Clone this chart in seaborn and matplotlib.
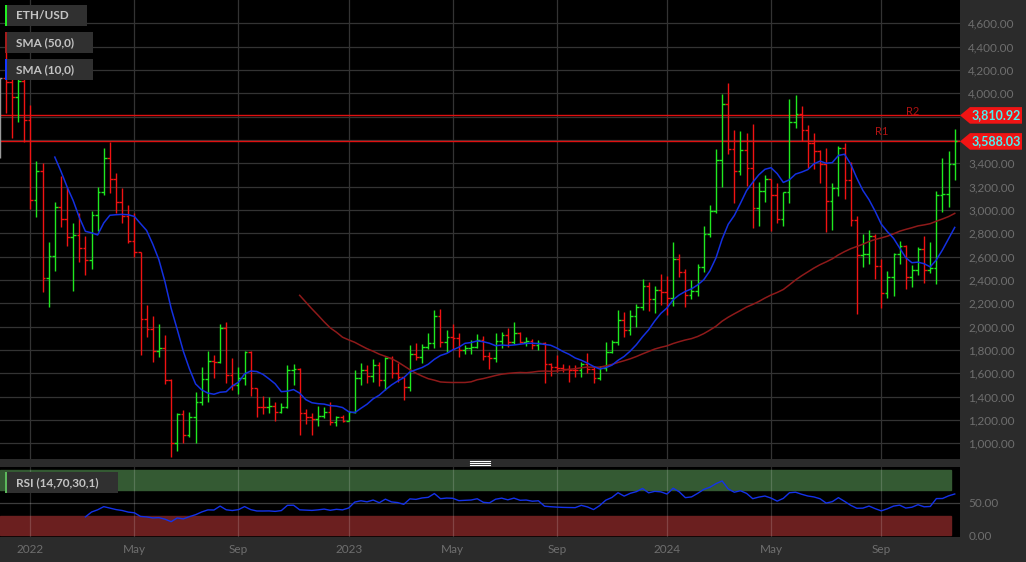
# Weekly ETH/USD OHLC chart with SMA(50), SMA(10) and an RSI(14) panel underneath

import numpy as np
import pandas as pd
import matplotlib
matplotlib.use("Agg")
import matplotlib.pyplot as plt
from matplotlib.patches import Polygon, Rectangle
from matplotlib.lines import Line2D
from matplotlib.ticker import FuncFormatter
import seaborn as sns

# Weekly bars (first bar is cut by the left edge)
first_week = "2021-12-03"

open_ = [4130, 4130, 4100, 3965, 4110, 3770, 3086, 3334, 2414, 2606,
         3023, 2920, 2766, 2783, 2672, 2571, 2957, 3151, 3443, 3263,
         3071, 2949, 2734, 2637, 2063, 1977, 1794, 1814, 1543, 1000,
         1251, 1071, 1223, 1357, 1552, 1706, 1694, 1986, 1586, 1500,
         1563, 1786, 1471, 1314, 1310, 1316, 1271, 1314, 1629, 1637,
         1257, 1229, 1206, 1234, 1271, 1186, 1229, 1194, 1271, 1557,
         1629, 1577, 1671, 1543, 1734, 1600, 1566, 1480, 1766, 1743,
         1823, 1857, 2092, 1871, 1909, 1900, 1800, 1814, 1829, 1886,
         1751, 1729, 1880, 1929, 1871, 1943, 1871, 1880, 1843, 1857,
         1677, 1657, 1643, 1634, 1630, 1626, 1677, 1634, 1557, 1643,
         1786, 1871, 2057, 1971, 2092, 2172, 2349, 2234, 2314, 2300,
         2243, 2577, 2472, 2271, 2309, 2509, 2792, 2994, 3429, 3906,
         3520, 3334, 3514, 3357, 3014, 3160, 3263, 3129, 2920, 3151,
         3751, 3820, 3686, 3571, 3509, 3391, 3077, 3186, 3534, 3257,
         2914, 2614, 2623, 2777, 2523, 2286, 2429, 2623, 2694, 2429,
         2486, 2663, 2486, 2506, 3129, 3137, 3391]
high = [4135, 4370, 4150, 4150, 4140, 3900, 3420, 3400, 2729, 3071,
        3291, 3200, 2891, 2971, 2777, 2994, 3194, 3529, 3586, 3320,
        3191, 3043, 2971, 2643, 2186, 2092, 2023, 1929, 1549, 1257,
        1286, 1271, 1443, 1651, 1794, 1757, 2023, 2043, 1729, 1657,
        1792, 1794, 1475, 1406, 1400, 1357, 1343, 1671, 1680, 1643,
        1291, 1257, 1320, 1309, 1357, 1234, 1243, 1280, 1629, 1686,
        1671, 1720, 1700, 1743, 1745, 1686, 1571, 1843, 1857, 1851,
        1949, 2143, 2149, 1971, 2023, 1949, 1843, 1886, 1934, 1920,
        1786, 1949, 1957, 1986, 2043, 1957, 1909, 1891, 1886, 1865,
        1691, 1757, 1680, 1671, 1671, 1700, 1777, 1657, 1663, 1871,
        1886, 2143, 2129, 2143, 2191, 2406, 2386, 2349, 2451, 2434,
        2723, 2623, 2491, 2400, 2534, 2863, 3043, 3520, 3994, 4086,
        3686, 3677, 3657, 3737, 3243, 3300, 3270, 3229, 3157, 3951,
        3986, 3891, 3729, 3657, 3515, 3531, 3234, 3549, 3571, 3409,
        2949, 2794, 2829, 2794, 2577, 2477, 2634, 2734, 2700, 2529,
        2686, 2780, 2729, 3163, 3443, 3506, 3694]
low = [3445, 3830, 3615, 3757, 3585, 3006, 2937, 2300, 2166, 2480,
       2857, 2694, 2309, 2557, 2443, 2492, 2823, 3129, 3149, 2971,
       2886, 2720, 2594, 1757, 1909, 1700, 1737, 1506, 880, 937,
       1000, 1051, 1006, 1329, 1357, 1557, 1690, 1520, 1457, 1423,
       1496, 1406, 1223, 1251, 1257, 1194, 1257, 1300, 1500, 1071,
       1166, 1071, 1149, 1214, 1157, 1149, 1186, 1190, 1263, 1500,
       1514, 1529, 1492, 1457, 1557, 1529, 1371, 1451, 1714, 1691,
       1806, 1814, 1829, 1786, 1800, 1743, 1766, 1763, 1820, 1714,
       1634, 1700, 1814, 1829, 1851, 1857, 1834, 1806, 1800, 1520,
       1577, 1614, 1614, 1529, 1566, 1571, 1600, 1520, 1543, 1623,
       1771, 1843, 1909, 1929, 1994, 2143, 2137, 2120, 2186, 2100,
       2177, 2423, 2171, 2234, 2266, 2471, 2766, 2971, 3200, 3477,
       3063, 3300, 3209, 2849, 2866, 3071, 2823, 2886, 2866, 3057,
       3706, 3591, 3363, 3351, 3234, 2814, 2829, 3120, 3094, 2866,
       2106, 2514, 2537, 2406, 2157, 2249, 2263, 2534, 2320, 2337,
       2443, 2377, 2463, 2363, 2986, 3029, 3257]
close = [4130, 4100, 3965, 4110, 3770, 3086, 3334, 2414, 2606, 3023,
         2920, 2766, 2783, 2672, 2571, 2957, 3151, 3443, 3263, 3071,
         2949, 2734, 2637, 2063, 1977, 1794, 1814, 1543, 1000, 1251,
         1071, 1223, 1357, 1552, 1706, 1694, 1986, 1586, 1500, 1563,
         1786, 1471, 1314, 1310, 1316, 1271, 1314, 1629, 1637, 1257,
         1229, 1206, 1234, 1271, 1186, 1229, 1194, 1271, 1557, 1629,
         1577, 1671, 1543, 1734, 1600, 1566, 1480, 1766, 1743, 1823,
         1857, 2092, 1871, 1909, 1900, 1800, 1814, 1829, 1886, 1751,
         1729, 1880, 1929, 1871, 1943, 1871, 1880, 1843, 1857, 1677,
         1657, 1643, 1634, 1630, 1626, 1677, 1634, 1557, 1643, 1786,
         1871, 2057, 1971, 2092, 2172, 2349, 2234, 2314, 2300, 2243,
         2577, 2472, 2271, 2309, 2509, 2792, 2994, 3429, 3906, 3520,
         3334, 3514, 3357, 3014, 3160, 3263, 3129, 2920, 3151, 3751,
         3820, 3686, 3571, 3509, 3391, 3077, 3186, 3534, 3257, 2914,
         2614, 2623, 2777, 2523, 2286, 2429, 2623, 2694, 2429, 2486,
         2663, 2486, 2506, 3129, 3137, 3391, 3588.03]

tick_dates = ["2022-01-01", "2022-05-01", "2022-09-01", "2023-01-01", "2023-05-01",
              "2023-09-01", "2024-01-01", "2024-05-01", "2024-09-01"]
tick_labels = ["2022", "May", "Sep", "2023", "May", "Sep", "2024", "May", "Sep"]
price_ticks = list(range(1000, 4601, 200))
level_values = [3810.92, 3588.03]
level_names = ["R2", "R1"]
level_text_pos = [(149.1, 3843), (144.1, 3677)]
rsi_ticks = [0, 50]

# Build table
dates = pd.date_range(first_week, periods=len(close), freq="7D")
df = pd.DataFrame({"date": dates, "open": open_, "high": high, "low": low, "close": close})
df["i"] = np.arange(len(df))

# Indicators as named in the chart legend: SMA(50), SMA(10), RSI(14)
df["sma50"] = df["close"].rolling(50).mean()
df["sma10"] = df["close"].rolling(10).mean()
delta = df["close"].diff().to_numpy()
gain = np.clip(delta, 0, None)
loss = np.clip(-delta, 0, None)
avg_g = np.full(len(df), np.nan)
avg_l = np.full(len(df), np.nan)
avg_g[14] = np.mean(gain[1:15])
avg_l[14] = np.mean(loss[1:15])
for k in range(15, len(df)):
    avg_g[k] = (avg_g[k - 1] * 13 + gain[k]) / 14
    avg_l[k] = (avg_l[k - 1] * 13 + loss[k]) / 14
df["rsi"] = 100 - 100 / (1 + avg_g / avg_l)

tick_idx = [int(dates.searchsorted(pd.Timestamp(d))) for d in tick_dates]

# Style
plt.rcParams["font.family"] = ["Lato", "DejaVu Sans"]
GRAY_BG = "#2b2b2b"
GRID = "#333333"
LABEL = "#6e6e6e"
UP = "#1fe81f"
DOWN = "#f01212"

W, H = 1026, 562
fig = plt.figure(figsize=(W / 100, H / 100), dpi=100, facecolor=GRAY_BG)


def px_axes(x0, y0, x1, y1):
    return fig.add_axes([x0 / W, 1 - y1 / H, (x1 - x0) / W, (y1 - y0) / H])


def price_label(v, _):
    # the level tags sit on top of the nearby axis labels
    if any(abs(v - lv) < 100 for lv in level_values):
        return ""
    return f"{v:,.2f}"


ax = px_axes(0, 0, 960, 459)
ax_rsi = px_axes(0, 467, 960, 537)
xlim = (0.05, 156.86)

# ---- price panel ----
ax.set_facecolor("black")
for s in ax.spines.values():
    s.set_visible(False)
ax.set_xlim(*xlim)
ax.set_ylim(866, 4800)
ax.set_yticks(price_ticks)
ax.set_xticks(tick_idx)
ax.grid(True, color=GRID, lw=0.9, zorder=0)
ax.set_axisbelow(True)
ax.yaxis.tick_right()
ax.yaxis.set_major_formatter(FuncFormatter(price_label))
ax.tick_params(axis="y", length=0, pad=6, labelcolor=LABEL, labelsize=8.5)
ax.tick_params(axis="x", length=0, labelbottom=False)

prev = df["close"].shift(1)
cols = np.where(df["close"] > prev, UP, np.where(df["close"] < prev, DOWN, "#9a9a9a"))
x = df["i"].to_numpy()
ax.vlines(x, df["low"], df["high"], colors=cols, lw=1.0, zorder=3)
ax.hlines(df["open"], x - 0.45, x, colors=cols, lw=1.0, zorder=3)
ax.hlines(df["close"], x, x + 0.45, colors=cols, lw=1.0, zorder=3)

sma = df.dropna(subset=["sma50"])
sns.lineplot(data=sma, x="i", y="sma50", ax=ax, color="#8e1a1a", lw=1.1, legend=False, zorder=4)
sma = df.dropna(subset=["sma10"])
sns.lineplot(data=sma, x="i", y="sma10", ax=ax, color="#1430e0", lw=1.1, legend=False, zorder=4)
ax.set_xlabel("")
ax.set_ylabel("")

for v, name, (tx, ty) in zip(level_values, level_names, level_text_pos):
    ax.axhline(v, color="#e01010", lw=1.0, zorder=2)
    ax.text(tx, ty, name, color="#b01212", fontsize=8, ha="center", va="center", zorder=5)

# price tags on the right axis
for v in level_values:
    yc = fig.transFigure.inverted().transform(ax.transData.transform((0, v)))[1]
    hh = 8.3 / H
    pts = [(960 / W, yc), (970 / W, yc + hh), (1022 / W, yc + hh), (1022 / W, yc - hh), (970 / W, yc - hh)]
    fig.add_artist(Polygon(pts, closed=True, transform=fig.transFigure, facecolor="#f01414",
                           edgecolor="none", zorder=10))
    fig.text(996 / W, yc, f"{v:,.2f}", color="#4af0f0", fontweight="bold", fontsize=9,
             ha="center", va="center", zorder=11)

# ---- RSI panel ----
ax_rsi.set_facecolor("black")
for s in ax_rsi.spines.values():
    s.set_visible(False)
ax_rsi.set_xlim(*xlim)
ax_rsi.set_ylim(-2.3, 104.4)
ax_rsi.axhspan(70, 100, xmin=0, xmax=0.991, color="#345a33", zorder=1)
ax_rsi.axhspan(0, 30, xmin=0, xmax=0.991, color="#6b1f1f", zorder=1)
ax_rsi.axhline(50, color="#3c3c3c", lw=0.9, zorder=1.5)
for t in tick_idx:
    ax_rsi.axvline(t, color="white", alpha=0.17, lw=0.9, zorder=1.6)
sns.lineplot(data=df.dropna(subset=["rsi"]), x="i", y="rsi", ax=ax_rsi, color="#1432e8",
             lw=1.0, legend=False, zorder=3)
ax_rsi.set_xlabel("")
ax_rsi.set_ylabel("")
ax_rsi.set_xticks(tick_idx)
ax_rsi.set_xticklabels(tick_labels)
ax_rsi.set_yticks(rsi_ticks)
ax_rsi.yaxis.tick_right()
ax_rsi.yaxis.set_major_formatter(FuncFormatter(lambda v, _: f"{v:.2f}"))
ax_rsi.tick_params(axis="y", length=0, pad=6, labelcolor=LABEL, labelsize=8.5)
ax_rsi.tick_params(axis="x", length=0, pad=5, labelcolor=LABEL, labelsize=8.5)


# ---- legend boxes ----
def legend_box(x0, y0, x1, y1, strip, text):
    fig.add_artist(Rectangle((x0 / W, 1 - y1 / H), (x1 - x0) / W, (y1 - y0) / H,
                             transform=fig.transFigure, facecolor="#303030", edgecolor="none", zorder=10))
    fig.add_artist(Rectangle((x0 / W, 1 - y1 / H), 2 / W, (y1 - y0) / H,
                             transform=fig.transFigure, facecolor=strip, edgecolor="none", zorder=11))
    fig.text(16 / W, 1 - (y0 + y1) / 2 / H, text, color="#c4c4c4", fontweight="bold",
             fontsize=8.5, va="center", ha="left", zorder=12)


legend_box(5, 5, 87, 26, "#22ee22", "ETH/USD")
legend_box(5, 32, 93, 53, "#a31c1c", "SMA (50,0)")
legend_box(5, 59, 93, 80, "#1438ff", "SMA (10,0)")
legend_box(5, 472, 118, 493, "#5cb85c", "RSI (14,70,30,1)")

# panel splitter handle
for yy in (461.3, 463.3, 465.3):
    fig.add_artist(Line2D([470 / W, 490 / W], [1 - yy / H, 1 - yy / H], transform=fig.transFigure,
                          color="white", lw=0.8, zorder=10))

fig.savefig("out.png", dpi=100, facecolor=GRAY_BG)
